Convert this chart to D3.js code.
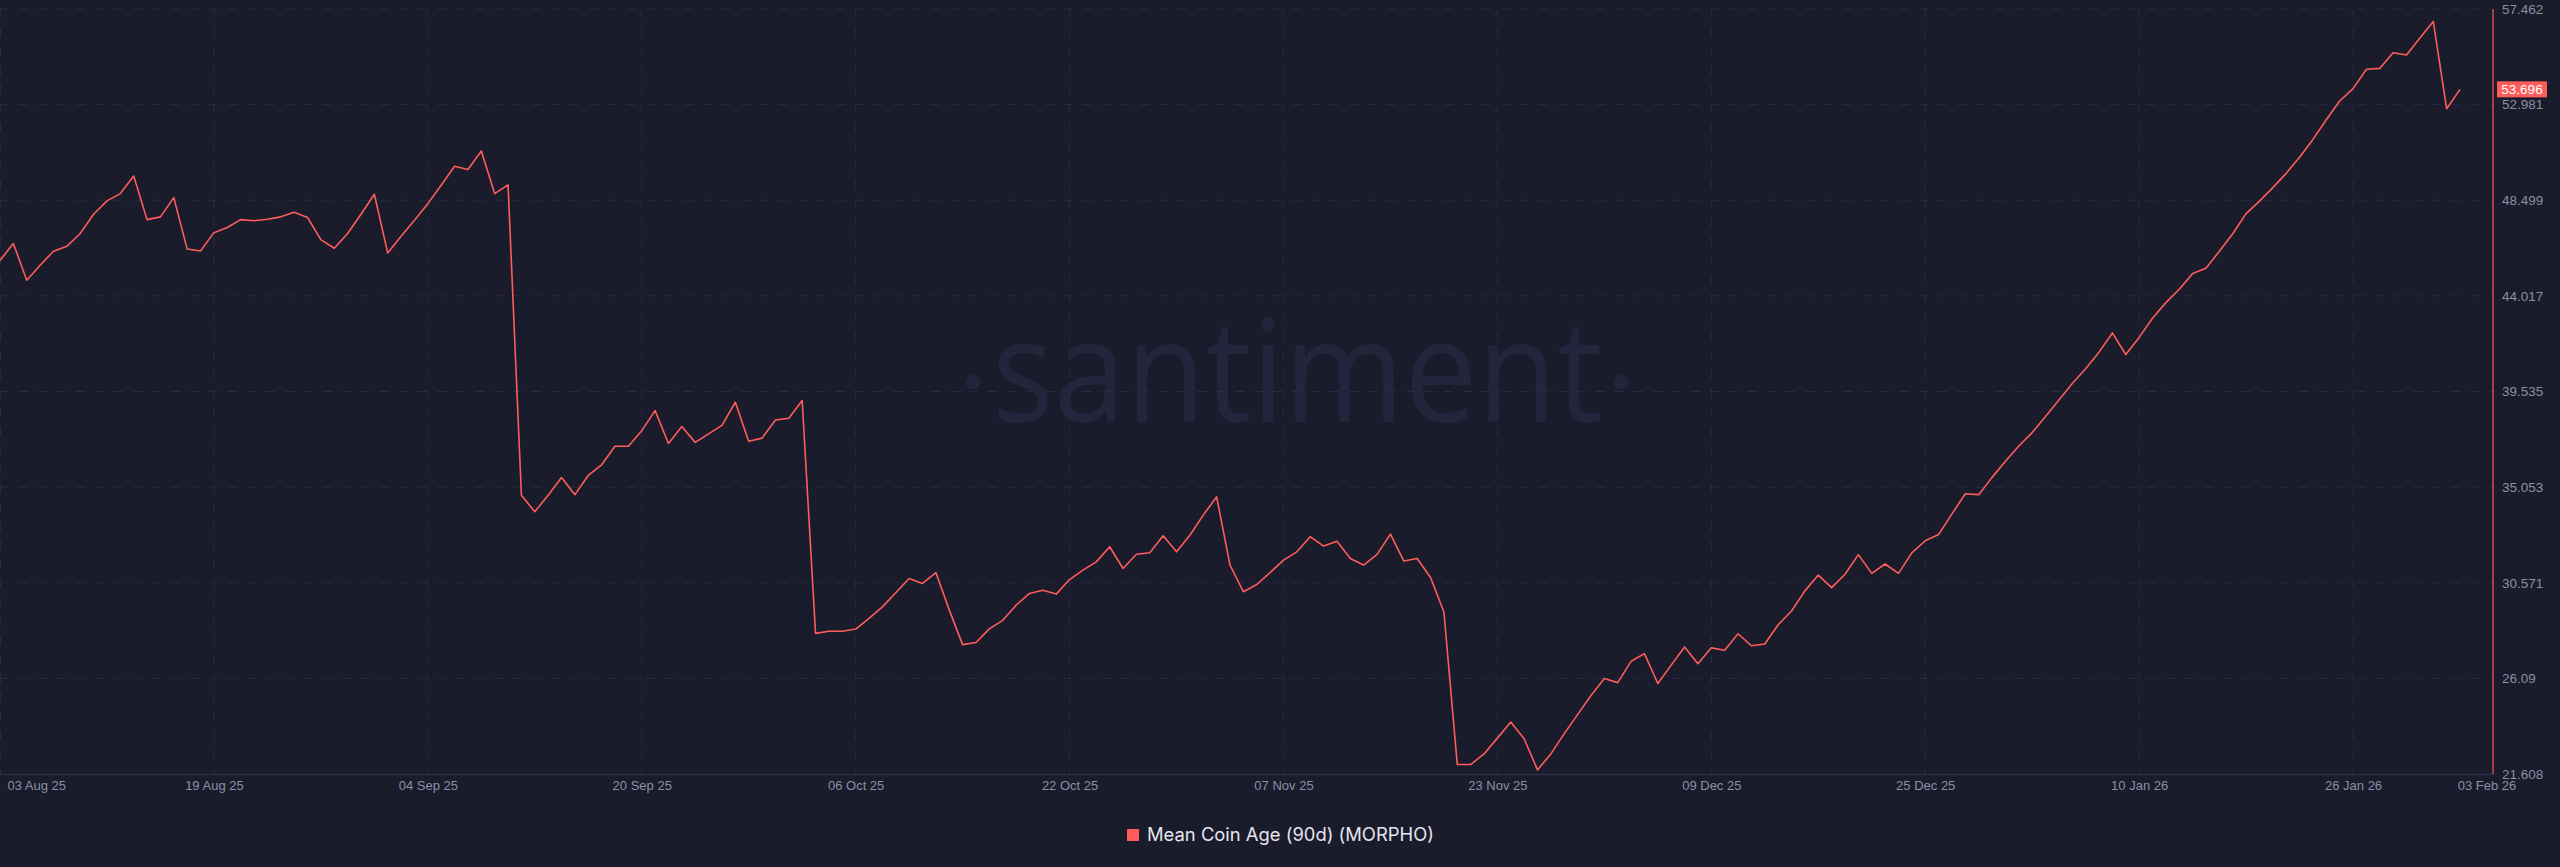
<!DOCTYPE html>
<html><head><meta charset="utf-8">
<script src="https://cdn.jsdelivr.net/npm/d3@7"></script>
<style>html,body{margin:0;padding:0;background:#1a1b2b;overflow:hidden}</style>
</head><body><svg id="c" width="2560" height="867"></svg>
<script>
// ---- data ----
const startDate = "2025-08-03"; // one value per day
const values = [
45.68,46.47,44.75,45.45,46.11,46.34,46.94,47.84,48.47,48.81,
49.63,47.59,47.72,48.62,46.21,46.12,46.98,47.22,47.59,47.54,
47.61,47.72,47.94,47.69,46.65,46.25,46.94,47.84,48.78,46.03,
46.81,47.56,48.34,49.20,50.09,49.94,50.81,48.81,49.22,34.67,
33.90,34.67,35.50,34.70,35.60,36.10,36.97,36.97,37.70,38.64,
37.10,37.89,37.15,37.55,37.95,39.03,37.20,37.35,38.20,38.28,
39.11,28.20,28.30,28.30,28.40,28.90,29.44,30.10,30.77,30.54,
31.05,29.30,27.67,27.77,28.41,28.81,29.52,30.07,30.22,30.04,
30.72,31.16,31.55,32.26,31.24,31.91,31.98,32.77,32.02,32.80,
33.74,34.60,31.40,30.15,30.49,31.05,31.63,32.02,32.73,32.29,
32.52,31.71,31.40,31.90,32.85,31.59,31.71,30.82,29.20,22.05,
22.05,22.55,23.29,24.04,23.26,21.80,22.55,23.50,24.39,25.29,
26.08,25.89,26.89,27.25,25.85,26.71,27.56,26.78,27.52,27.41,
28.18,27.62,27.70,28.60,29.25,30.19,30.93,30.34,30.97,31.89,
31.01,31.45,31.01,31.97,32.54,32.83,33.80,34.74,34.70,35.51,
36.27,36.98,37.61,38.36,39.14,39.91,40.60,41.38,42.28,41.27,
42.07,42.97,43.70,44.33,45.06,45.31,46.11,46.93,47.87,48.46,
49.09,49.76,50.51,51.35,52.27,53.15,53.73,54.64,54.68,55.41,
55.31,56.10,56.88,52.79,53.696
];
const yTickValues = [21.608, 26.09, 30.571, 35.053, 39.535, 44.017, 48.499, 52.981, 57.462];
const yTickLabels = ["21.608","26.09","30.571","35.053","39.535","44.017","48.499","52.981","57.462"];
const xTickDates = ["2025-08-03","2025-08-19","2025-09-04","2025-09-20","2025-10-06","2025-10-22",
                    "2025-11-07","2025-11-23","2025-12-09","2025-12-25","2026-01-10","2026-01-26"];
const xTickLabels = ["03 Aug 25","19 Aug 25","04 Sep 25","20 Sep 25","06 Oct 25","22 Oct 25",
                     "07 Nov 25","23 Nov 25","09 Dec 25","25 Dec 25","10 Jan 26","26 Jan 26"];
const endDateLabel = "03 Feb 26";
const lastValueLabel = "53.696";
const seriesName = "Mean Coin Age (90d) (MORPHO)";

// ---- layout ----
const W = 2560, H = 867;
const plotL = 0, plotR = 2493, plotT = 9, plotB = 774;
const lineColor = "#ff5c5c";
const textColor = "#8b90a6";
const gridColor = "#282c41";

const parse = d3.utcParse("%Y-%m-%d");
const t0 = parse(startDate);
const data = values.map((v, i) => ({ date: d3.utcDay.offset(t0, i), value: v }));
const tEnd = data[data.length - 1].date;

const x = d3.scaleUtc().domain([t0, tEnd]).range([0, 2460]);
const y = d3.scaleLinear().domain([yTickValues[0], yTickValues[yTickValues.length - 1]]).range([plotB, plotT]);

const svg = d3.select("#c");
svg.append("rect").attr("width", W).attr("height", H).attr("fill", "#1a1b2b");

// watermark
const wm = svg.append("g").attr("fill", "#22253b");
wm.append("text").attr("x", 992).attr("y", 422).attr("font-family", "Open Sans")
  .attr("font-size", 142).attr("font-weight", 400)
  .attr("textLength", 611).attr("lengthAdjust", "spacingAndGlyphs").text("santiment");
wm.append("circle").attr("cx", 973).attr("cy", 382).attr("r", 7.5);
wm.append("circle").attr("cx", 1621).attr("cy", 382).attr("r", 7.5);

// horizontal grid
svg.append("g").selectAll("line").data(yTickValues.slice(1)).join("line")
  .attr("x1", plotL).attr("x2", plotR).attr("y1", d => y(d)).attr("y2", d => y(d))
  .attr("stroke", gridColor).attr("stroke-width", 1).attr("stroke-dasharray", "9,10");

// vertical grid
const xTicks = xTickDates.map(parse);
svg.append("g").selectAll("line").data(xTicks).join("line")
  .attr("x1", d => Math.max(0.5, x(d))).attr("x2", d => Math.max(0.5, x(d)))
  .attr("y1", plotT).attr("y2", plotB)
  .attr("stroke", gridColor).attr("stroke-width", 1).attr("stroke-dasharray", "9,10");

// bottom axis line
svg.append("line").attr("x1", plotL).attr("x2", plotR).attr("y1", plotB + 0.5).attr("y2", plotB + 0.5)
  .attr("stroke", "#2c3049").attr("stroke-width", 1.5);

// x axis labels
const xAxis = d3.axisBottom(x).tickValues(xTicks).tickSize(0).tickFormat((d, i) => xTickLabels[i]);
const gx = svg.append("g").attr("transform", `translate(0,${plotB})`).call(xAxis);
gx.select(".domain").remove();
gx.selectAll("text").attr("fill", textColor).attr("font-family", "Liberation Sans, Arial, sans-serif")
  .attr("font-size", 13).attr("dy", "0.32em").attr("y", 12);
gx.selectAll(".tick").filter((d, i) => i === 0).select("text").attr("text-anchor", "start").attr("x", 7);
svg.append("text").attr("x", 2487).attr("y", plotB + 12).attr("dy", "0.32em")
  .attr("text-anchor", "middle").attr("fill", textColor)
  .attr("font-family", "Liberation Sans, Arial, sans-serif").attr("font-size", 13).text(endDateLabel);

// y axis
const yAxis = d3.axisRight(y).tickValues(yTickValues).tickSize(0).tickFormat((d, i) => yTickLabels[i]);
const gy = svg.append("g").attr("transform", `translate(${plotR},0)`).call(yAxis);
gy.select(".domain").remove();
gy.selectAll("text").attr("fill", textColor).attr("font-family", "Liberation Sans, Arial, sans-serif")
  .attr("font-size", 13.5).attr("x", 9);
svg.append("line").attr("x1", plotR).attr("x2", plotR).attr("y1", plotT).attr("y2", plotB)
  .attr("stroke", lineColor).attr("stroke-width", 1.2);

// series line
const line = d3.line().x(d => x(d.date)).y(d => y(d.value));
svg.append("path").datum(data).attr("d", line).attr("fill", "none")
  .attr("stroke", lineColor).attr("stroke-width", 1.6).attr("stroke-linejoin", "round");

// last value badge
const lastY = y(values[values.length - 1]);
svg.append("rect").attr("x", 2497).attr("y", lastY - 8).attr("width", 50).attr("height", 16)
  .attr("fill", lineColor);
svg.append("text").attr("x", 2522).attr("y", lastY).attr("dy", "0.35em").attr("text-anchor", "middle")
  .attr("fill", "#ffffff").attr("font-family", "Liberation Sans, Arial, sans-serif").attr("font-size", 13.5)
  .text(lastValueLabel);

// legend
const lg = svg.append("g");
lg.append("rect").attr("x", 1127).attr("y", 829).attr("width", 12).attr("height", 12).attr("fill", lineColor);
lg.append("text").attr("x", 1147).attr("y", 841).attr("fill", "#e4e5ee")
  .attr("font-family", "Inter, Lato, sans-serif").attr("font-size", 18.4).text(seriesName);
</script></body></html>
